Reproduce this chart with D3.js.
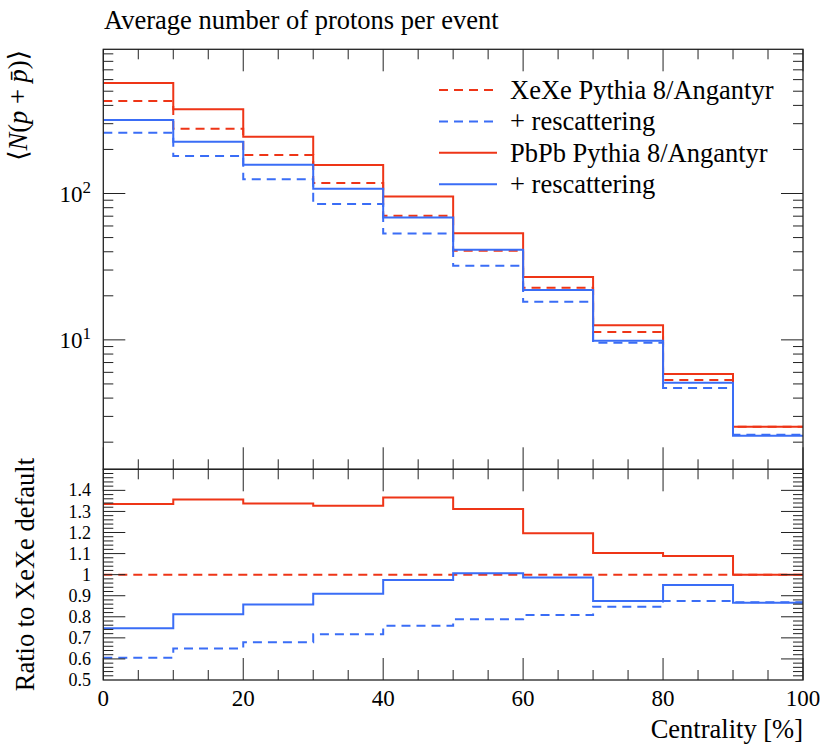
<!DOCTYPE html>
<html><head><meta charset="utf-8">
<script src="https://cdn.jsdelivr.net/npm/d3@7/dist/d3.min.js"></script>
<style>
body{margin:0;background:#fff}
text{font-family:"Liberation Serif","DejaVu Serif",serif;fill:#000}
</style>
</head><body>
<svg id="chart" width="830" height="750"></svg>
<script>
// ---- data ----
const binEdges = [0,10,20,30,40,50,60,70,80,90,100];
const xexeDefault = [428.6,277,183.3,118,70.4,40.7,22.7,11.32,5.32,2.55];
const xexeRescat  = [260,180.4,125,84.8,53.3,32.1,18.2,9.57,4.69,2.25];
const pbpbDefault = [569,376,244,156.6,95.4,53.5,26.9,12.57,5.84,2.55];
const pbpbRescat  = [318,226,157.3,107.7,68.6,41.3,21.9,9.87,5.09,2.21];

const ratioXeXeDefault = [1,1,1,1,1,1,1,1,1,1];
const ratioXeXeRescat  = [0.606,0.650,0.679,0.717,0.757,0.788,0.809,0.848,0.875,0.869];
const ratioPbPbDefault = [1.335,1.357,1.338,1.327,1.366,1.311,1.197,1.103,1.089,1.0];
const ratioPbPbRescat  = [0.746,0.812,0.858,0.909,0.975,1.007,0.986,0.875,0.951,0.867];

const xTickLabels = ["0","20","40","60","80","100"];
const ratioTickLabels = ["0.5","0.6","0.7","0.8","0.9","1","1.1","1.2","1.3","1.4"];
const logTickExps = ["1","2"];
const legendLabels = ["XeXe Pythia 8/Angantyr","+ rescattering","PbPb Pythia 8/Angantyr","+ rescattering"];
const titleText = "Average number of protons per event";
const xLabel = "Centrality [%]";
const ratioLabel = "Ratio to XeXe default";

// ---- styles ----
const RED = "#ee3517", BLUE = "#3a6df6";
const DASH = "9,6";
const seriesStyle = [
  {color:RED, dash:DASH}, {color:BLUE, dash:DASH},
  {color:RED, dash:null}, {color:BLUE, dash:null}
];

const svg = d3.select("#chart");
const L = 103.3, R = 803, T = 49.3, M = 469.3, B = 680;

const x = d3.scaleLinear().domain([0,100]).range([L,R]);
const yTop = d3.scaleLog().domain([1.305, 966.8]).range([M,T]);
const yRat = d3.scaleLinear().domain([0.5,1.5]).range([B,M]);

const defs = svg.append("defs");
defs.append("clipPath").attr("id","clipTop").append("rect")
  .attr("x",L).attr("y",T).attr("width",R-L).attr("height",M-T);
defs.append("clipPath").attr("id","clipRat").append("rect")
  .attr("x",L).attr("y",M).attr("width",R-L).attr("height",B-M);

function stepPts(vals){
  const pts = vals.map((v,i)=>[binEdges[i],v]);
  pts.push([binEdges[binEdges.length-1], vals[vals.length-1]]);
  return pts;
}
function drawSeries(g, vals, yScale, st){
  const line = d3.line().x(d=>x(d[0])).y(d=>yScale(d[1])).curve(d3.curveStepAfter);
  g.append("path").attr("d",line(stepPts(vals)))
    .attr("fill","none").attr("stroke",st.color).attr("stroke-width",2)
    .attr("stroke-dasharray",st.dash);
}

const gTop = svg.append("g").attr("clip-path","url(#clipTop)");
[xexeDefault,xexeRescat,pbpbDefault,pbpbRescat].forEach((s,i)=>drawSeries(gTop,s,yTop,seriesStyle[i]));
const gRat = svg.append("g").attr("clip-path","url(#clipRat)");
[ratioXeXeDefault,ratioXeXeRescat,ratioPbPbDefault,ratioPbPbRescat].forEach((s,i)=>drawSeries(gRat,s,yRat,seriesStyle[i]));

// ---- frames & ticks ----
const ax = svg.append("g").attr("stroke","#222").attr("stroke-width",1).attr("fill","none");
ax.append("rect").attr("x",L).attr("y",T).attr("width",R-L).attr("height",M-T).attr("stroke-width",1.3);
ax.append("rect").attr("x",L).attr("y",M).attr("width",R-L).attr("height",B-M).attr("stroke-width",1.3);

const MAJ = 22, MIN = 10;
const xt = d3.range(0,101,5);
[[T,1],[M,-1],[M,1],[B,-1]].forEach(([yy,dir])=>{
  xt.forEach(v=>{
    const len = (v%20===0)?MAJ:MIN;
    ax.append("line").attr("x1",x(v)).attr("x2",x(v)).attr("y1",yy).attr("y2",yy+dir*len);
  });
});
const logTicks = [];
[1,10,100].forEach(dec=>{ for(let k=1;k<=9;k++){ const v=dec*k; if(v>=yTop.domain()[0]&&v<=yTop.domain()[1]) logTicks.push({v, major:k===1}); }});
[[L,1],[R,-1]].forEach(([xx,dir])=>{
  logTicks.forEach(t=>{
    ax.append("line").attr("x1",xx).attr("x2",xx+dir*(t.major?MAJ:MIN)).attr("y1",yTop(t.v)).attr("y2",yTop(t.v));
  });
});
const rt = d3.range(0,51).map(i=>0.5+i*0.02);
[[L,1],[R,-1]].forEach(([xx,dir])=>{
  rt.forEach((v,i)=>{
    if(i===0||i===50) return;
    const major = (i%5===0);
    ax.append("line").attr("x1",xx).attr("x2",xx+dir*(major?MAJ:MIN)).attr("y1",yRat(v)).attr("y2",yRat(v));
  });
});

// ---- labels ----
const FS = 26.5, TFS = 23;
xTickLabels.forEach(s=>{
  svg.append("text").attr("x",x(+s)).attr("y",706).attr("text-anchor","middle")
    .attr("font-size",TFS).text(s);
});
ratioTickLabels.forEach(s=>{
  svg.append("text").attr("x",91).attr("y",yRat(+s)).attr("dy","0.34em").attr("text-anchor","end")
    .attr("font-size",18).text(s);
});
logTickExps.forEach(e=>{
  const t = svg.append("text").attr("x",91).attr("y",yTop(Math.pow(10,+e))+8).attr("text-anchor","end")
    .attr("font-size",TFS);
  t.append("tspan").text("10");
  t.append("tspan").attr("dy",-9).attr("font-size",17).text(e);
});

svg.append("text").attr("x",104).attr("y",29.3).attr("font-size",FS).text(titleText);
svg.append("text").attr("x",R).attr("y",738).attr("text-anchor","end").attr("font-size",FS).text(xLabel);
svg.append("text").attr("transform","translate(33.5,458) rotate(-90)").attr("text-anchor","end")
  .attr("font-size",FS).text(ratioLabel);
const yl = svg.append("text").attr("transform","translate(27,50) rotate(-90)").attr("text-anchor","end")
  .attr("font-size",FS);
yl.append("tspan").text("\u27E8");
yl.append("tspan").attr("font-style","italic").text("N");
yl.append("tspan").text("(");
yl.append("tspan").attr("font-style","italic").text("p");
yl.append("tspan").text(" + ");
yl.append("tspan").attr("font-style","italic").text("p\u0304");
yl.append("tspan").text(")\u27E9");

legendLabels.forEach((s,i)=>{
  const yy = 90 + i*31.4;
  svg.append("line").attr("x1",439).attr("x2",497).attr("y1",yy).attr("y2",yy)
    .attr("stroke",seriesStyle[i].color).attr("stroke-width",2).attr("stroke-dasharray",seriesStyle[i].dash);
  svg.append("text").attr("x",510).attr("y",yy+9).attr("font-size",FS).text(s);
});
</script>
</body></html>
